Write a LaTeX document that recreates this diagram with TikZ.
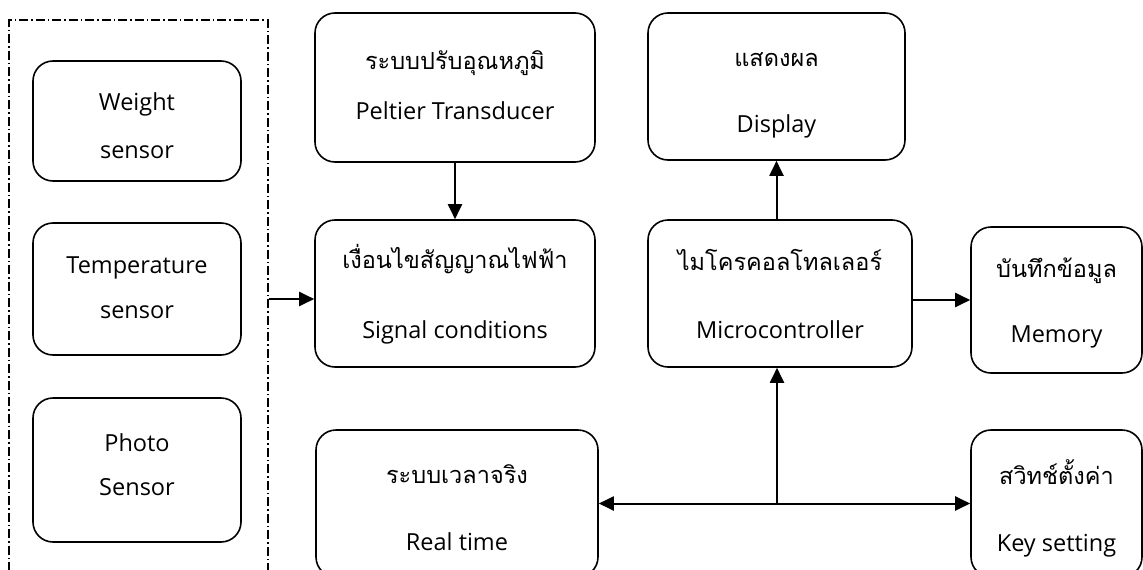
\documentclass[tikz,border=0pt]{standalone}
\usepackage{fontspec}
\setmainfont{Open Sans}
\newfontfamily\thai[Script=Thai]{Loma}
\usetikzlibrary{arrows.meta}
\tikzset{%
  blk/.style   = {shape=rectangle, rounded corners=20pt, draw, line width=1.6pt,%
                  inner sep=0pt},%
  txt/.style   = {align=center, inner sep=0pt},%
  frame/.style = {shape=rectangle, draw, line width=1.1pt,%
                  dash pattern=on 9pt off 3pt on 1.5pt off 3pt},%
  arr/.style   = {line width=2pt, -{Triangle[length=15pt,width=14pt]}}%
}
\newcommand{\twoline}[3]{{\thai #1}\\[#3]#2}

\begin{document}
\begin{tikzpicture}[x=1pt, y=-1pt, every node/.style = {font=\fontsize{23.5}{28}\selectfont}]%
	\useasboundingbox (0,0) rectangle (1143,570);
	\clip (0,0) rectangle (1143,570);
	% sensors
	\node [frame, minimum width=259pt, minimum height=590pt] (sensors) at (138.5,315) {};
	\node [blk, minimum width=208pt, minimum height=120pt] (weight) at (137,121) {};
	\node [txt] (weight-t) at (137,126) {Weight\\[20pt]sensor};
	\node [blk, minimum width=208pt, minimum height=132pt] (temp) at (137,289) {};
	\node [txt] (temp-t) at (137,288) {Temperature\\[17pt]sensor};
	\node [blk, minimum width=208pt, minimum height=144pt] (photo) at (137,470) {};
	\node [txt] (photo-t) at (137,465) {Photo\\[16pt]Sensor};
	% processing
	\node [blk, minimum width=280pt, minimum height=149pt] (peltier) at (455,87.5) {};
	\node [txt] (peltier-t) at (455,85.5)
		{\twoline{ระบบปรับอุณหภูมิ}{Peltier Transducer}{22pt}};
	\node [blk, minimum width=280pt, minimum height=147pt] (signal) at (455,293.5) {};
	\node [txt] (signal-t) at (455,294)
		{\twoline{เงื่อนไขสัญญาณไฟฟ้า}{Signal conditions}{42pt}};
	\node [blk, minimum width=257pt, minimum height=147pt] (display) at (776.5,86.5) {};
	\node [txt] (display-t) at (776.5,95)
		{\twoline{แสดงผล}{Display}{38pt}};
	\node [blk, minimum width=264pt, minimum height=147pt] (micro) at (780,293.5) {};
	\node [txt] (micro-t) at (780,294.5)
		{\twoline{ไมโครคอลโทลเลอร์}{Microcontroller}{40pt}};
	\node [blk, minimum width=171pt, minimum height=146pt] (memory) at (1056.5,300) {};
	\node [txt] (memory-t) at (1056.5,303)
		{\twoline{บันทึกข้อมูล}{Memory}{37pt}};
	\node [blk, minimum width=282pt, minimum height=147pt] (realtime) at (457,503.5) {};
	\node [txt] (realtime-t) at (457,508)
		{\twoline{ระบบเวลาจริง}{Real time}{39pt}};
	\node [blk, minimum width=171pt, minimum height=147pt] (keyset) at (1056.5,503.5) {};
	\node [txt] (keyset-t) at (1056.5,508)
		{\twoline{สวิทช์ตั้งค่า}{Key setting}{39pt}};
	% connectors
	\draw [arr] ([yshift=-5.5pt]sensors.east |- signal.west) -- ([yshift=-5.5pt]signal.west);
	\draw [arr] (peltier.south) -- (signal.north);
	\draw [arr] (micro.north -| display.south) -- (display.south);
	\draw [arr] (micro.east |- memory.west) -- (memory.west);
	\coordinate (jn) at ([xshift=-3pt]micro.south |- realtime.east);
	\draw [arr] (jn) -- (jn |- micro.south);
	\draw [arr] (jn) -- (realtime.east);
	\draw [arr] (jn) -- (keyset.west);
\end{tikzpicture}
\end{document}
